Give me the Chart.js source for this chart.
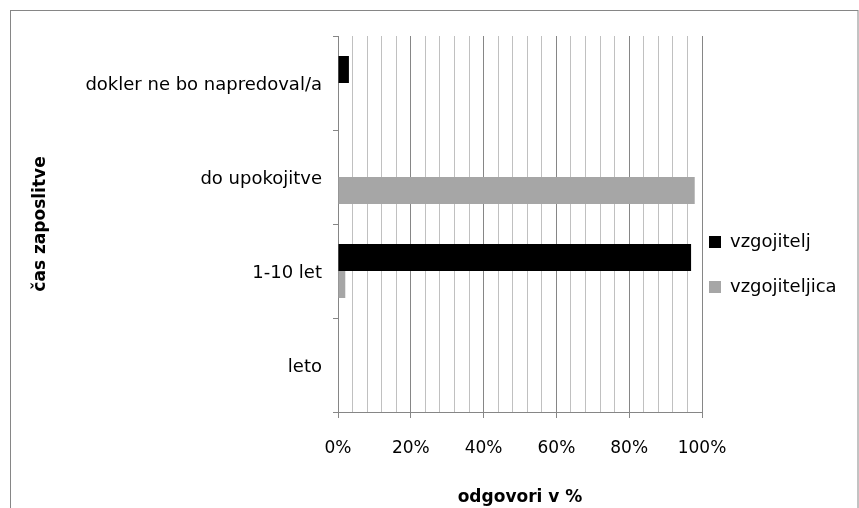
<!DOCTYPE html>
<html>
<head>
<meta charset="utf-8">
<script src="https://cdn.jsdelivr.net/npm/chart.js@4/dist/chart.umd.min.js"></script>
<style>
html,body{margin:0;padding:0;background:#fff;}
#wrap{position:relative;width:859px;height:508px;}
</style>
</head>
<body>
<div id="wrap"><canvas id="c" width="859" height="508"></canvas></div>
<script>
const categories = ['dokler ne bo napredoval/a', 'do upokojitve', '1-10 let', 'leto'];
const seriesNames = ['vzgojitelj', 'vzgojiteljica'];
const vzgojitelj = [3, 0, 97, 0];
const vzgojiteljica = [0, 98, 2, 0];
const xTickValues = [0, 20, 40, 60, 80, 100];
const xTitle = 'odgovori v %';
const yTitle = 'čas zaposlitve';

const FONT = 'DejaVu Sans';
const LEGEND_SIZE = 18;

const borderPlugin = {
  id: 'outerBorder',
  beforeDraw(chart) {
    const ctx = chart.ctx;
    ctx.save();
    ctx.strokeStyle = '#868686';
    ctx.lineWidth = 1;
    ctx.strokeRect(10.5, 10.5, 847.5, 600);
    ctx.restore();
  }
};

const legendShift = {
  id: 'legendShift',
  afterLayout(chart) {
    const lg = chart.legend;
    if (!lg) return;
    const pad = lg.options.labels.padding;
    const dx = (709 - pad) - lg.left;
    lg.left += dx; lg.right += dx;
    const itemH = LEGEND_SIZE;
    const colH = 2 * (itemH + pad);
    const desired = 242 - itemH / 2;
    const cur = ((lg.top + pad) + (lg.bottom - colH)) / 2;
    const dy = desired - cur;
    lg.top += dy; lg.bottom += dy;
  }
};

new Chart(document.getElementById('c'), {
  type: 'bar',
  data: {
    labels: categories,
    datasets: [
      { label: seriesNames[0], data: vzgojitelj, backgroundColor: '#000000', borderWidth: 0 },
      { label: seriesNames[1], data: vzgojiteljica, backgroundColor: '#a6a6a6', borderWidth: 0 }
    ]
  },
  options: {
    indexAxis: 'y',
    responsive: false,
    animation: false,
    devicePixelRatio: 1,
    categoryPercentage: 0.575,
    barPercentage: 1.0,
    layout: { padding: { top: 36, left: 0, right: 0, bottom: 0 } },
    plugins: {
      tooltip: { enabled: false },
      legend: {
        position: 'right',
        maxWidth: 157,
        labels: {
          boxWidth: 12,
          boxHeight: 12,
          padding: 45 - LEGEND_SIZE,
          color: '#000',
          font: { family: FONT, size: LEGEND_SIZE }
        }
      }
    },
    scales: {
      x: {
        min: 0,
        max: 100,
        afterFit(s) { s.height = 96; },
        border: { color: '#868686', width: 1 },
        grid: {
          color: (c) => (c.tick && c.tick.value % 20 === 0) ? '#868686' : '#c0c0c0',
          tickColor: (c) => (c.tick && c.tick.value % 20 === 0) ? '#868686' : 'rgba(0,0,0,0)',
          tickLength: 6,
          lineWidth: 1
        },
        ticks: {
          stepSize: 4,
          autoSkip: false,
          maxRotation: 0,
          padding: 20,
          color: '#000',
          font: { family: FONT, size: 17 },
          callback: (v) => xTickValues.includes(v) ? v + '%' : ''
        },
        title: {
          display: true,
          text: xTitle,
          color: '#000',
          font: { family: FONT, size: 17, weight: 'bold' },
          padding: { top: 0, bottom: 0 }
        }
      },
      y: {
        afterFit(s) { s.width = 338; },
        border: { color: '#868686', width: 1 },
        grid: {
          offset: true,
          drawOnChartArea: false,
          drawTicks: true,
          tickLength: 5,
          color: '#868686',
          tickColor: '#868686'
        },
        ticks: {
          padding: 11,
          labelOffset: 2,
          color: '#000',
          font: { family: FONT, size: 18 }
        },
        title: {
          display: true,
          text: yTitle,
          color: '#000',
          font: { family: FONT, size: 17, weight: 'bold' },
          padding: { top: 30, bottom: 0 }
        }
      }
    }
  },
  plugins: [borderPlugin, legendShift]
});
</script>
</body>
</html>
